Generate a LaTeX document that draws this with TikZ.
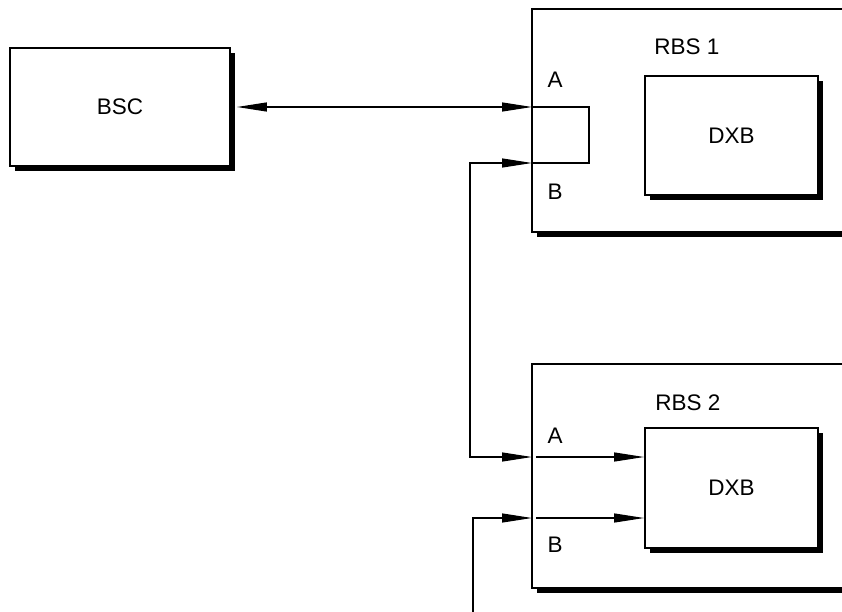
\documentclass[tikz,border=0pt]{standalone}
\usepackage{fontspec}
\setmainfont{Liberation Sans}
\usetikzlibrary{arrows.meta, positioning, calc, shadows}

\tikzset{
  unitbox/.style={draw, line width=1.8bp, fill=white, inner sep=0pt,
    drop shadow={shadow xshift=5bp, shadow yshift=-5bp, opacity=1, fill=black}},
  lbl/.style={font=\fontsize{22.5bp}{27bp}\selectfont},
  wire/.style={line width=1.2bp, -{Triangle[length=30bp, width=9bp]}},
  wires/.style={line width=1.2bp, {Triangle[length=30bp, width=9bp]}-{Triangle[length=30bp, width=9bp]}}
}

\begin{document}
\begin{tikzpicture}[x=1bp, y=-1bp]
  \useasboundingbox (0,0) rectangle (842,612);
  \clip (0,0) rectangle (842,612);
  % Controller
  \node[unitbox, minimum width=220bp, minimum height=118bp] (bsc) at (120,107) {};
  \node[lbl] (bsclbl) at (bsc.center) {BSC};
  % Base stations
  \node[unitbox, minimum width=338bp, minimum height=223bp] (rbs1) at (701,120.5) {};
  \node[unitbox, minimum width=338bp, minimum height=224bp] (rbs2) at (701,476) {};
  \node[lbl] (rbs1lbl) at (687,47) {RBS 1};
  \node[lbl] (rbs2lbl) at (688,403) {RBS 2};
  % DXB boards
  \node[unitbox, minimum width=173bp, minimum height=119bp] (dxb1) at (731.5,135.5) {};
  \node[unitbox, minimum width=173bp, minimum height=120bp] (dxb2) at (731.5,488) {};
  \node[lbl] (dxb1lbl) at (dxb1.center) {DXB};
  \node[lbl] (dxb2lbl) at (dxb2.center) {DXB};
  % Ports
  \coordinate (a1) at (532,107);
  \coordinate (b1) at (532,163);
  \coordinate (a2) at (532,457);
  \coordinate (b2) at (532,518);
  \node[lbl] (a1lbl) at (555,80) {A};
  \node[lbl] (b1lbl) at (555,192) {B};
  \node[lbl] (a2lbl) at (555,436) {A};
  \node[lbl] (b2lbl) at (555,545) {B};
  % Loop A-B in RBS 1
  \draw[line width=1.8bp] (a1) -- ++(57,0) |- (b1);
  % Connections
  \coordinate (bus) at (470,300);
  \coordinate (feed) at (473,612);
  \draw[wires, shorten <=6bp] (bsc.east) -- (a1);
  \draw[wires] (b1) -| (bus) |- (a2);
  \draw[wire] (feed) |- (b2);
  \draw[wire] ([xshift=4bp]a2) -- (a2 -| dxb2.west);
  \draw[wire] ([xshift=4bp]b2) -- (b2 -| dxb2.west);
\end{tikzpicture}
\end{document}
